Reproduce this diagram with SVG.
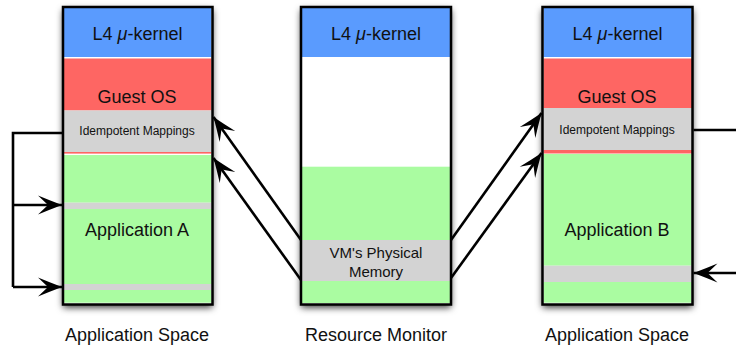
<svg xmlns="http://www.w3.org/2000/svg" width="736" height="349" viewBox="0 0 736 349">
  <defs>
    <filter id="shadow" x="-20%" y="-20%" width="140%" height="140%">
      <feDropShadow dx="0" dy="3" stdDeviation="3.5" flood-color="#000" flood-opacity="0.8"/>
    </filter>
    <marker id="arrow" viewBox="-26 -10 28 20" refX="0" refY="0" markerWidth="28" markerHeight="20" markerUnits="userSpaceOnUse" orient="auto">
      <path d="M0,0 Q-12,-4.5 -24,-9.5 L-14,0 L-24,9.5 Q-12,4.5 0,0 Z" fill="#000"/>
    </marker>
  </defs>
  <style>
    .frame { fill: #fff; stroke: none; }
    .border { fill: none; stroke: #000; stroke-width: 2.5; }
    .blue { fill: #5A9BFE; }
    .red { fill: #FE6663; }
    .gray { fill: #D3D3D3; }
    .green { fill: #AAFCA1; }
    text { font-family: "Liberation Sans", Arial, Helvetica, sans-serif; fill: #111; text-anchor: middle; }
    .big { font-size: 18px; }
    .mid { font-size: 15px; }
    .small { font-size: 12px; }
    .conn { fill: none; stroke: #000; stroke-width: 2.6; }
  </style>

  <rect width="736" height="349" fill="#fff"/>

  <!-- Application space A -->
  <g id="app-space-a">
    <rect class="frame" x="63" y="7" width="149.5" height="297.5" filter="url(#shadow)"/>
    <rect class="blue" x="64" y="8" width="147.5" height="49"/>
    <rect class="red" x="64" y="58.5" width="147.5" height="52"/>
    <rect class="gray" x="64" y="110.5" width="147.5" height="41.5"/>
    <rect class="red" x="64" y="152" width="147.5" height="1.6"/>
    <rect class="green" x="64" y="155" width="147.5" height="47.7"/>
    <rect class="gray" x="64" y="202.7" width="147.5" height="6.3"/>
    <rect class="green" x="64" y="209" width="147.5" height="75"/>
    <rect class="gray" x="64" y="284" width="147.5" height="6"/>
    <rect class="green" x="64" y="290" width="147.5" height="12.7"/>
    <rect class="border" x="63" y="7" width="149.5" height="297.5"/>
    <text class="big" x="137.5" y="39.5">L4 <tspan font-style="italic">μ</tspan>-kernel</text>
    <text class="big" x="137" y="103">Guest OS</text>
    <text class="small" x="137" y="135">Idempotent Mappings</text>
    <text class="big" x="137" y="235.5">Application A</text>
    <text class="big" x="137" y="341">Application Space</text>
  </g>

  <!-- Resource monitor -->
  <g id="resource-monitor">
    <rect class="frame" x="301" y="7" width="150" height="297.5" filter="url(#shadow)"/>
    <rect class="blue" x="302" y="8" width="148" height="49"/>
    <rect class="green" x="302" y="166.7" width="148" height="73.3"/>
    <rect class="gray" x="302" y="240" width="148" height="41"/>
    <rect class="green" x="302" y="281" width="148" height="22"/>
    <rect class="border" x="301" y="7" width="150" height="297.5"/>
    <text class="big" x="376" y="39.5">L4 <tspan font-style="italic">μ</tspan>-kernel</text>
    <text class="mid" x="376" y="258">VM's Physical</text>
    <text class="mid" x="376" y="277">Memory</text>
    <text class="big" x="376" y="341">Resource Monitor</text>
  </g>

  <!-- Application space B -->
  <g id="app-space-b">
    <rect class="frame" x="542.5" y="7" width="150" height="297.5" filter="url(#shadow)"/>
    <rect class="blue" x="543.5" y="8" width="148" height="49"/>
    <rect class="red" x="543.5" y="58.5" width="148.5" height="49.5"/>
    <rect class="gray" x="543.5" y="108" width="148.5" height="42"/>
    <rect class="red" x="543.5" y="150" width="148.5" height="3.5"/>
    <rect class="green" x="543.5" y="154" width="148" height="111.7"/>
    <rect class="gray" x="543.5" y="265.7" width="148" height="16.3"/>
    <rect class="green" x="543.5" y="282" width="148" height="20.7"/>
    <rect class="border" x="542.5" y="7" width="150" height="297.5"/>
    <text class="big" x="617.5" y="39.5">L4 <tspan font-style="italic">μ</tspan>-kernel</text>
    <text class="big" x="617" y="103">Guest OS</text>
    <text class="small" x="617" y="134">Idempotent Mappings</text>
    <text class="big" x="617" y="235.5">Application B</text>
    <text class="big" x="617" y="341">Application Space</text>
  </g>

  <!-- Connectors -->
  <g id="connectors">
    <!-- idempotent mappings of A feed back into application A -->
    <polyline class="conn" points="62,133 13,133 13,287"/>
    <line class="conn" x1="13" y1="205" x2="62" y2="205" marker-end="url(#arrow)"/>
    <line class="conn" x1="13" y1="287" x2="62" y2="287" marker-end="url(#arrow)"/>
    <!-- physical memory mapped into guest A -->
    <line class="conn" x1="301" y1="240" x2="213.5" y2="117" marker-end="url(#arrow)"/>
    <line class="conn" x1="301" y1="280" x2="213.5" y2="158" marker-end="url(#arrow)"/>
    <!-- physical memory mapped into guest B -->
    <line class="conn" x1="451" y1="240" x2="541.5" y2="113" marker-end="url(#arrow)"/>
    <line class="conn" x1="451" y1="278" x2="541.5" y2="153" marker-end="url(#arrow)"/>
    <!-- idempotent mappings of B feed back into application B -->
    <line class="conn" x1="693.5" y1="130" x2="736" y2="130"/>
    <line class="conn" x1="736" y1="273" x2="693.5" y2="273" marker-end="url(#arrow)"/>
  </g>
</svg>
